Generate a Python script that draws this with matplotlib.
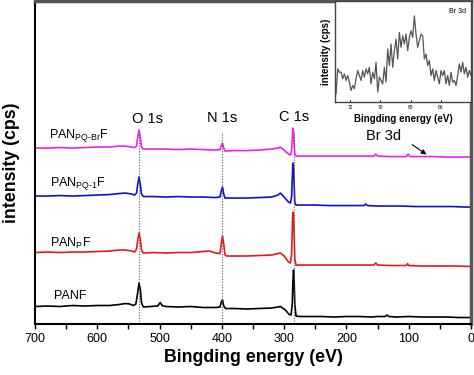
import matplotlib
matplotlib.use("Agg")
import matplotlib.pyplot as plt
import numpy as np

plt.rcParams["font.family"] = ["Liberation Sans", "DejaVu Sans"]
plt.rcParams["mathtext.fontset"] = "custom"
plt.rcParams["mathtext.rm"] = "Liberation Sans"
plt.rcParams["mathtext.it"] = "Liberation Sans"

# survey spectra, (binding energy eV, intensity a.u. incl. stacking offset)
panf = [(700, 17.5), (680, 18), (660, 17.5), (640, 18.5), (620, 18), (600, 18.5), (580, 18.5),
        (565, 19.5), (555, 20.5), (548, 20), (542, 18.5), (538, 20), (535, 32), (533, 41),
        (531, 35), (529, 21), (526, 17), (515, 17.5), (503, 18), (499, 21.5), (496, 18.5),
        (490, 17.5), (470, 17), (450, 17.5), (430, 16.5), (410, 16.5), (403, 17), (401, 22),
        (399, 24), (397, 18), (394, 15.5), (380, 15.5), (360, 15), (340, 15.5), (320, 16),
        (310, 17), (306, 17.5), (298, 14), (292, 9.5), (289, 9), (287, 20), (286, 42),
        (285, 54), (284, 44), (283, 20), (281, 8), (275, 7.5), (260, 7.5), (240, 7.5),
        (220, 7), (200, 7.5), (180, 7.5), (160, 7), (150, 7.5), (138, 7.5), (135, 9),
        (132, 7.5), (120, 7), (100, 7.5), (80, 7), (60, 7), (40, 7), (20, 6.5), (0, 6.5)]

panpf = [(700, 71.5), (680, 72), (660, 71.5), (640, 72), (620, 72), (600, 72.5), (580, 73),
         (565, 74), (555, 74), (545, 73), (540, 72), (537, 75), (535, 84), (533, 91), (531, 85),
         (529, 74), (526, 71), (510, 71.5), (490, 71), (470, 71.5), (450, 71.5), (430, 72.5),
         (420, 73), (410, 71), (403, 70.5), (401, 80), (399, 88), (397, 80), (395, 69),
         (392, 68), (380, 68), (360, 68), (340, 68.5), (320, 69), (310, 70.5), (306, 71),
         (300, 68), (293, 62), (290, 61), (288, 70), (287, 95), (286, 112), (285, 110),
         (284, 90), (283, 65), (281, 59), (270, 59), (250, 59), (230, 59), (200, 59),
         (170, 59), (156, 59), (153, 61), (150, 59), (130, 58.5), (110, 58.5), (104, 58.5),
         (102, 60.5), (100, 58.5), (80, 58), (60, 58), (40, 58), (20, 58), (0, 57.5)]

panpq1f = [(700, 128), (680, 128), (660, 128.5), (640, 128), (620, 128.5), (600, 129),
           (580, 129.5), (565, 130.5), (555, 131), (545, 130), (540, 129), (537, 131),
           (535, 140), (533, 147), (531, 140), (529, 130), (526, 127.5), (510, 127.5),
           (490, 127), (470, 127.5), (450, 127), (430, 127), (410, 126.5), (403, 127),
           (401, 133), (399, 137), (397, 130), (395, 126), (380, 126), (360, 126), (340, 126.5),
           (320, 127), (310, 129), (306, 131), (300, 127), (293, 122), (290, 121), (288, 128),
           (287, 145), (286, 161), (285, 158), (284, 140), (283, 122), (281, 119), (270, 119),
           (250, 119), (230, 118.5), (200, 118.5), (172, 118.5), (169, 120), (166, 118.5),
           (150, 118), (130, 118), (110, 118), (90, 117.5), (70, 117.5), (50, 117.5),
           (30, 117.5), (10, 117), (0, 117)]

panpqbrf = [(700, 176), (680, 176), (660, 176.5), (640, 176), (620, 176.5), (600, 177),
            (580, 177), (565, 178), (555, 178), (545, 177), (540, 176.5), (537, 178),
            (535, 187), (533, 194), (531, 187), (529, 177), (526, 175), (510, 175), (490, 175),
            (470, 174.5), (450, 175), (430, 174.5), (410, 174), (403, 174.5), (401, 178),
            (399, 181), (397, 176), (395, 173), (380, 173.5), (360, 173.5), (340, 174),
            (320, 175), (310, 176), (306, 177), (300, 174), (293, 170), (290, 169), (288, 174),
            (287, 185), (286, 196), (285, 193), (284, 180), (283, 170), (281, 168), (270, 168),
            (250, 168), (230, 168), (200, 168), (170, 168), (156, 168), (153, 170), (150, 168),
            (130, 167.5), (110, 167.5), (104, 167.5), (101, 170), (98, 167.5), (80, 167.5),
            (60, 167.5), (40, 167), (20, 167), (0, 167)]

series_names = [r"PANF", r"PAN$_{\mathrm{P}}$F", r"PAN$_{\mathrm{PQ\text{-}1}}$F",
                r"PAN$_{\mathrm{PQ\text{-}Br}}$F"]
series_data = [panf, panpf, panpq1f, panpqbrf]
series_colors = ["black", "#e31a1c", "#1010d0", "#ee22ee"]
name_pos = [(670, 28), (676, 81), (676, 141), (677, 189)]

peak_names = ["O 1s", "N 1s", "C 1s"]
peak_energies = [533, 399, 285]
label_x = [520, 399, 284]
label_y = [201.5, 202, 203]

# Br 3d high resolution inset
br_counts = [25, 100, 90, 90, 70, 85, 65, 80, 60, 35, 50, 40, 70, 95, 80, 65, 95, 75, 100,
             85, 105, 55, 90, 70, 120, 30, 75, 65, 55, 105, 60, 160, 110, 175, 105, 155, 190,
             130, 210, 165, 200, 175, 205, 155, 195, 215, 195, 260, 205, 165, 185, 205, 200,
             130, 145, 110, 125, 80, 100, 65, 95, 75, 55, 95, 80, 95, 55, 80, 50, 90, 60, 65,
             50, 80, 115, 90, 120, 85, 105, 75, 95, 80]
br_energy = np.linspace(72.93, 64.0, len(br_counts))

fig = plt.figure(figsize=(4.74, 3.75), dpi=100)
ax = fig.add_axes([0.0738, 0.136, 0.92, 0.861])

for name, data, color, pos in zip(series_names, series_data, series_colors, name_pos):
    e = [p[0] for p in data]
    y = [p[1] for p in data]
    ax.plot(e, y, color=color, lw=1.2)
    ax.text(pos[0], pos[1], name, fontsize=9, ha="left", va="center")

for name, en, lx, ly in zip(peak_names, peak_energies, label_x, label_y):
    ax.plot([en, en], [0, 192], color="#555555", lw=0.8, ls=(0, (1, 1.5)))
    ax.text(lx, ly, name, fontsize=10.5, ha="center", va="baseline")

ax.text(141, 188, "Br 3d", fontsize=10.5, ha="center", va="center")
ax.annotate("", xy=(68, 168), xytext=(98, 181),
            arrowprops=dict(arrowstyle="-|>", color="black", lw=0.8, mutation_scale=7))

ax.set_xlim(700, 0)
ax.set_ylim(0, 323)
ax.set_xticks([700, 600, 500, 400, 300, 200, 100, 0])
ax.set_xticks(np.arange(650, 0, -100), minor=True)
ax.tick_params(axis="x", which="both", direction="out", length=3.5, width=1, labelsize=9,
               pad=3)
ax.set_yticks([])
ax.set_xlabel("Bingding energy (eV)", fontsize=12.8, fontweight="bold", labelpad=3)
ax.set_ylabel("intensity (cps)", fontsize=12.8, fontweight="bold", labelpad=11)
for s in ["left", "bottom"]:
    ax.spines[s].set_linewidth(1.5)
for s in ["top", "right"]:
    ax.spines[s].set_linewidth(2.5)
    ax.spines[s].set_color("#555555")

ins = fig.add_axes([335 / 474, 1 - 102 / 375, 136 / 474, 101 / 375])
ins.plot(br_energy, br_counts, color="#555555", lw=0.9)
ins.set_xlim(73, 64)
ins.set_ylim(0, 305)
ins.set_xticks([72, 70, 68, 66])
ins.tick_params(axis="x", direction="in", length=1.5, labelsize=3.5, pad=2)
ins.set_yticks([])
ins.text(0.96, 0.93, "Br 3d", transform=ins.transAxes, fontsize=5, ha="right", va="top")
ins.set_xlabel("Bingding energy (eV)", fontsize=7, fontweight="bold", labelpad=3)
ins.set_ylabel("intensity (cps)", fontsize=7, fontweight="bold", labelpad=3)
for s in ins.spines.values():
    s.set_color("#444444")
    s.set_linewidth(1)

fig.savefig("out.png", dpi=100)
